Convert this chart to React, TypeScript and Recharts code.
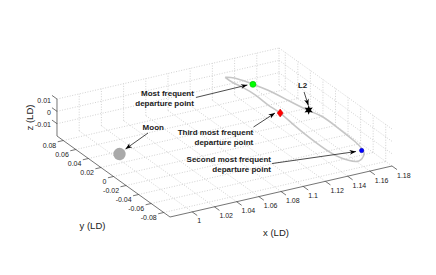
import React from 'react';
import { ScatterChart, Scatter, XAxis, YAxis } from 'recharts';

// ---------- data (LD units) ----------
const xTicks = [1, 1.02, 1.04, 1.06, 1.08, 1.1, 1.12, 1.14, 1.16, 1.18];
const xTickLabels = ['1', '1.02', '1.04', '1.06', '1.08', '1.1', '1.12', '1.14', '1.16', '1.18'];
const yTicks = [-0.08, -0.06, -0.04, -0.02, 0, 0.02, 0.04, 0.06, 0.08];
const yTickLabels = ['-0.08', '-0.06', '-0.04', '-0.02', '0', '0.02', '0.04', '0.06', '0.08'];
const zTicks = [-0.01, 0, 0.01];
const zTickLabels = ['-0.01', '0', '0.01'];
const axisTitles = ['x (LD)', 'y (LD)', 'z (LD)'];

const orbitX = [1.123, 1.129, 1.135, 1.137, 1.143, 1.149, 1.155, 1.160, 1.162, 1.163, 1.162, 1.160, 1.154, 1.147, 1.140, 1.136, 1.134, 1.133, 1.133, 1.131, 1.130, 1.127, 1.124, 1.123];
const orbitY = [0.075, 0.071, 0.060, 0.056, 0.042, 0.021, 0.000, -0.014, -0.036, -0.061, -0.074, -0.081, -0.088, -0.090, -0.081, -0.066, -0.044, -0.019, 0.005, 0.021, 0.039, 0.055, 0.066, 0.075];
const orbitZ = [0.0035, 0.0031, 0.0024, 0.0020, 0.0009, -0.0008, -0.0024, -0.0035, -0.0052, -0.0072, -0.0082, -0.0088, -0.0094, -0.0095, -0.0088, -0.0076, -0.0059, -0.0039, -0.0020, -0.0008, 0.0007, 0.0020, 0.0028, 0.0035];

const moonPos = [0.982, -0.006, 0];
const l2Pos = [1.153, -0.005, 0];
const firstDeparture = [1.137, 0.0555, 0.002];
const secondDeparture = [1.1604, -0.0763, -0.0084];
const thirdDeparture = [1.133, 0.005, -0.002];

const labelMostFrequent = ['Most frequent', 'departure point'];
const labelSecond = ['Second most frequent', 'departure point'];
const labelThird = ['Third most frequent', 'departure point'];
const labelMoon = ['Moon'];
const labelL2 = ['L2'];

// ---------- view / projection ----------
const W = 436;
const H = 275;
const X0 = 0.98, X1 = 1.18, Y0 = -0.09, Y1 = 0.09, Z0 = -0.02, Z1 = 0.01;
const ORIGIN = { px: 170, py: 217 };
const UX = { px: 1110, py: -255 };
const UY = { px: -627.8, py: -450 };
const UZ = { px: 0, py: -1233 };

type P3 = number[];
function proj(p: P3) {
  const dx = p[0] - X0, dy = p[1] - Y0, dz = p[2] - Z0;
  return {
    px: ORIGIN.px + dx * UX.px + dy * UY.px + dz * UZ.px,
    py: ORIGIN.py + dx * UX.py + dy * UY.py + dz * UZ.py,
  };
}

const FONT = '"Liberation Sans", Arial, Helvetica, sans-serif';

// ---------- segments ----------
const gridSegs: P3[][] = [];
xTicks.forEach((x) => {
  gridSegs.push([[x, Y0, Z0], [x, Y1, Z0]]);
  gridSegs.push([[x, Y1, Z0], [x, Y1, Z1]]);
});
yTicks.forEach((y) => {
  gridSegs.push([[X0, y, Z0], [X1, y, Z0]]);
  gridSegs.push([[X1, y, Z0], [X1, y, Z1]]);
});
zTicks.forEach((z) => {
  gridSegs.push([[X0, Y1, z], [X1, Y1, z]]);
  gridSegs.push([[X1, Y0, z], [X1, Y1, z]]);
});

const axisSegs: P3[][] = [
  [[X0, Y0, Z0], [X1, Y0, Z0]],
  [[X0, Y0, Z0], [X0, Y1, Z0]],
  [[X0, Y1, Z0], [X0, Y1, Z1]],
];
xTicks.forEach((x) => axisSegs.push([[x, Y0, Z0], [x, Y0 - 0.008, Z0]]));
yTicks.forEach((y) => axisSegs.push([[X0, y, Z0], [X0 - 0.005, y, Z0]]));
zTicks.forEach((z) => axisSegs.push([[X0, Y1, z], [X0, Y1 + 0.008, z]]));

// ---------- labels ----------
type Lbl = { px: number; py: number; lines: string[]; dx: number; dy: number; anchor: string; size: number; weight: string; rotate?: number };
const labels: Lbl[] = [];
xTicks.forEach((x, i) => labels.push({ ...proj([x, Y0, Z0]), lines: [xTickLabels[i]], dx: 5, dy: 9, anchor: 'start', size: 7, weight: 'normal' }));
yTicks.forEach((y, i) => labels.push({ ...proj([X0, y, Z0]), lines: [yTickLabels[i]], dx: -7, dy: 5, anchor: 'end', size: 7, weight: 'normal' }));
zTicks.forEach((z, i) => labels.push({ ...proj([X0, Y1, z]), lines: [zTickLabels[i]], dx: -6, dy: 1, anchor: 'end', size: 7, weight: 'normal' }));
labels.push({ ...proj([(X0 + X1) / 2, Y0, Z0]), lines: [axisTitles[0]], dx: -5, dy: 41, anchor: 'middle', size: 9.5, weight: 'normal' });
labels.push({ ...proj([X0, (Y0 + Y1) / 2, Z0]), lines: [axisTitles[1]], dx: -21, dy: 48.5, anchor: 'middle', size: 9.5, weight: 'normal' });
labels.push({ ...proj([X0, Y1, (Z0 + Z1) / 2]), lines: [axisTitles[2]], dx: -27.5, dy: 0, anchor: 'middle', size: 9.5, weight: 'normal', rotate: -90 });

type Ann = { target: P3; lines: string[]; anchor: string; text: number[]; tail: number[]; head: number[] };
const annotations: Ann[] = [
  { target: firstDeparture, lines: labelMostFrequent, anchor: 'end', text: [-59, 9.6], tail: [-57, 13.1], head: [-5.5, 0.6] },
  { target: moonPos, lines: labelMoon, anchor: 'middle', text: [33.8, -26.7], tail: [28.5, -21], head: [6, -5] },
  { target: thirdDeparture, lines: labelThird, anchor: 'end', text: [-27, 19], tail: [-26.7, 14], head: [-5.2, 0] },
  { target: secondDeparture, lines: labelSecond, anchor: 'end', text: [-90.6, 8.5], tail: [-89.6, 13], head: [-5.6, 1] },
  { target: l2Pos, lines: labelL2, anchor: 'middle', text: [-6, -24.3], tail: [-4.6, -18], head: [-0.3, -4.5] },
];
annotations.forEach((a) => {
  labels.push({ ...proj(a.target), lines: a.lines, dx: a.text[0], dy: a.text[1], anchor: a.anchor, size: 8, weight: 'bold' });
});
const arrows = annotations.map((a) => {
  const t = proj(a.target);
  const tail = { px: t.px + a.tail[0], py: t.py + a.tail[1] };
  const head = { px: t.px + a.head[0], py: t.py + a.head[1] };
  const angle = Math.atan2(head.py - tail.py, head.px - tail.px);
  return { tail, head: { ...head, angle } };
});

const orbitData = orbitX.map((x, i) => proj([x, orbitY[i], orbitZ[i]]));

// ---------- shapes ----------
const Empty = () => <g />;

const TextShape = (props: any) => {
  const { cx, cy, payload } = props;
  const x = cx + payload.dx;
  const y = cy + payload.dy;
  return (
    <text
      x={x}
      y={y}
      textAnchor={payload.anchor}
      fontSize={payload.size}
      fontWeight={payload.weight}
      fontFamily={FONT}
      fill="#1a1a1a"
      transform={payload.rotate ? `rotate(${payload.rotate} ${x} ${y})` : undefined}
    >
      {payload.lines.map((l: string, i: number) => (
        <tspan key={i} x={x} y={y + i * 10} dominantBaseline="central">
          {l}
        </tspan>
      ))}
    </text>
  );
};

const ArrowHead = (props: any) => {
  const { cx, cy, payload } = props;
  const a = payload.angle;
  const L = 6.5, w = 2.4, n = 4.6;
  const c = Math.cos(a), s = Math.sin(a);
  const pt = (u: number, v: number) => `${cx + u * c - v * s},${cy + u * s + v * c}`;
  return <polygon points={[pt(0, 0), pt(-L, -w), pt(-n, 0), pt(-L, w)].join(' ')} fill="#000" />;
};

const MoonShape = (props: any) => <circle cx={props.cx} cy={props.cy} r={6.2} fill="#a9a9a9" />;
const GreenShape = (props: any) => <circle cx={props.cx} cy={props.cy} r={3} fill="#00ff00" stroke="#00c000" strokeWidth={0.6} />;
const BlueShape = (props: any) => <circle cx={props.cx} cy={props.cy} r={2.2} fill="#0000ff" stroke="#0000aa" strokeWidth={0.5} />;
const RedShape = (props: any) => {
  const { cx, cy } = props;
  return <polygon points={`${cx},${cy - 4} ${cx + 3},${cy} ${cx},${cy + 4} ${cx - 3},${cy}`} fill="#ff0000" stroke="#cc0000" strokeWidth={0.5} />;
};
const StarShape = (props: any) => {
  const { cx, cy } = props;
  const pts: string[] = [];
  for (let k = 0; k < 12; k++) {
    const r = k % 2 === 0 ? 4.8 : 2.2;
    const ang = -Math.PI / 2 + (k * Math.PI) / 6;
    pts.push(`${cx + r * Math.cos(ang)},${cy + r * Math.sin(ang)}`);
  }
  return <polygon points={pts.join(' ')} fill="#000" />;
};

export default function App() {
  return (
    <div style={{ position: 'absolute', left: 0, top: 0, width: W, height: H, background: '#fff' }}>
      <ScatterChart width={W} height={H} margin={{ top: 0, right: 0, bottom: 0, left: 0 }}>
        <XAxis type="number" dataKey="px" domain={[0, W]} allowDataOverflow hide />
        <YAxis type="number" dataKey="py" domain={[0, H]} allowDataOverflow reversed hide />
        {gridSegs.map((s, i) => (
          <Scatter
            key={`g${i}`}
            data={[proj(s[0]), proj(s[1])]}
            line={{ stroke: '#b4b4b4', strokeWidth: 0.6, strokeDasharray: '1 1.6' }}
            shape={Empty}
            isAnimationActive={false}
          />
        ))}
        {axisSegs.map((s, i) => (
          <Scatter
            key={`a${i}`}
            data={[proj(s[0]), proj(s[1])]}
            line={{ stroke: '#3a3a3a', strokeWidth: 0.7 }}
            shape={Empty}
            isAnimationActive={false}
          />
        ))}
        <Scatter
          data={orbitData}
          line={{ stroke: '#c6c6c6', strokeWidth: 1.6 }}
          lineJointType="natural"
          shape={Empty}
          isAnimationActive={false}
        />
        <Scatter data={[proj(moonPos)]} shape={MoonShape} isAnimationActive={false} />
        <Scatter data={[proj(firstDeparture)]} shape={GreenShape} isAnimationActive={false} />
        <Scatter data={[proj(thirdDeparture)]} shape={RedShape} isAnimationActive={false} />
        <Scatter data={[proj(secondDeparture)]} shape={BlueShape} isAnimationActive={false} />
        <Scatter data={[proj(l2Pos)]} shape={StarShape} isAnimationActive={false} />
        {arrows.map((a, i) => (
          <Scatter
            key={`ar${i}`}
            data={[a.tail, a.head]}
            line={{ stroke: '#000', strokeWidth: 0.7 }}
            shape={Empty}
            isAnimationActive={false}
          />
        ))}
        {arrows.map((a, i) => (
          <Scatter key={`ah${i}`} data={[a.head]} shape={ArrowHead} isAnimationActive={false} />
        ))}
        <Scatter data={labels} shape={TextShape} isAnimationActive={false} />
      </ScatterChart>
    </div>
  );
}
